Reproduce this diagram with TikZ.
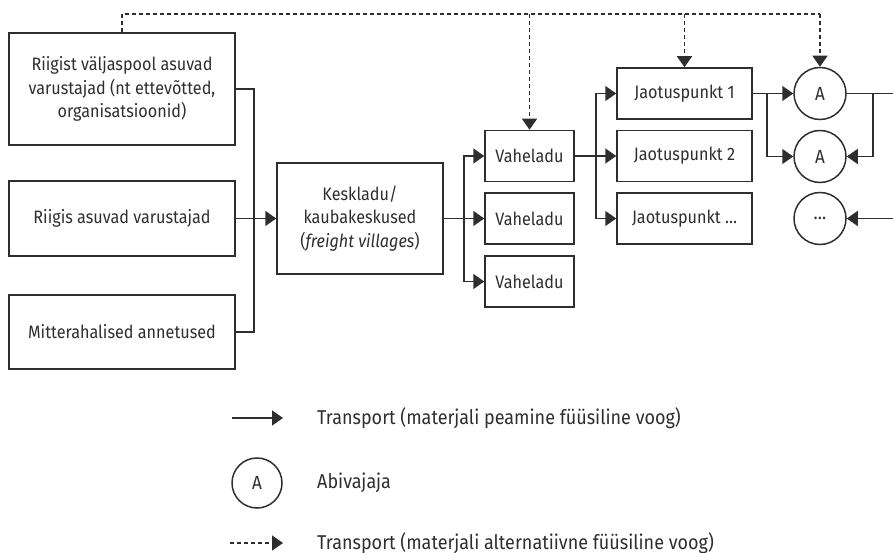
\documentclass[tikz,border=0pt]{standalone}
\usepackage{fontspec}
\setmainfont[FakeStretch=0.9]{Fira Sans}
\usetikzlibrary{arrows.meta,positioning}
\definecolor{ink}{HTML}{2E2E2E}

\begin{document}
\begin{tikzpicture}[x=1pt,y=-1pt]

\tikzset{box/.style = {shape=rectangle,draw=ink,line width=1.5pt,text=ink,align=center,inner sep=0pt,font=\fontsize{18}{23.5}\selectfont}}
\tikzset{helper/.style = {shape=circle,draw=ink,line width=1.5pt,text=ink,minimum size=52pt,inner sep=0pt,font=\fontsize{19}{21}\selectfont}}
\tikzset{plain/.style = {draw=ink,line width=1.5pt}}
\tikzset{flow/.style = {plain,-{Triangle[length=11pt,width=15pt]}}}
\tikzset{altline/.style = {plain,dash pattern=on 4pt off 3pt}}
\tikzset{altflow/.style = {flow,dash pattern=on 4pt off 3pt}}
\tikzset{keytext/.style = {anchor=west,text=ink,inner sep=0pt,font=\fontsize{20}{24}\selectfont}}

\useasboundingbox (0,0) rectangle (893,553);

% suppliers
\node[box,minimum width=226pt,minimum height=112pt] (abroad) at (122,89) {Riigist väljaspool asuvad\\varustajad (nt ettevõtted,\\organisatsioonid)};
\node[box,minimum width=226pt,minimum height=75pt] (domestic) at (122,218.5) {Riigis asuvad varustajad};
\node[box,minimum width=226pt,minimum height=74pt] (donations) at (122,332) {Mitterahalised annetused};

% warehouses
\node[box,minimum width=166pt,minimum height=111pt] (central) at (360,218.5) {Keskladu/\\kaubakeskused\\(\textit{freight villages})};
\node[box,minimum width=89pt,minimum height=51pt] (vl1) at (529.5,156) {Vaheladu};
\node[box,minimum width=89pt,minimum height=51pt] (vl2) at (529.5,218.5) {Vaheladu};
\node[box,minimum width=89pt,minimum height=51pt] (vl3) at (529.5,281.5) {Vaheladu};

% distribution points
\node[box,minimum width=135pt,minimum height=51pt] (jp1) at (684.5,93.5) {Jaotuspunkt 1};
\node[box,minimum width=135pt,minimum height=51pt] (jp2) at (684.5,156) {Jaotuspunkt 2};
\node[box,minimum width=135pt,minimum height=51pt] (jp3) at (684.5,218.5) {Jaotuspunkt \dots};

% people in need
\node[helper] (ab1) at (820,93.5) {A};
\node[helper] (ab2) at (820,156.5) {A};
\node[helper] (ab3) at (820,218.5) {\dots};

% junctions
\coordinate (bus) at (254,218.5);
\coordinate (split1) at (464,218.5);
\coordinate (split2) at (596,156);
\coordinate (split3) at (767,93.5);
\coordinate (split4) at (873,93.5);
\coordinate (exit1) at (893,93.5);
\coordinate (entry3) at (893,218.5);
\coordinate (altrow) at (0,14);

%edges
\draw[plain] (abroad.east) -| (bus) |- (donations.east);
\draw[flow] (domestic.east) -- (central.west);
\draw[flow] (central.east) -- (vl2.west);
\draw[flow] (split1) |- (vl1.west);
\draw[flow] (split1) |- (vl3.west);
\draw[flow] (vl1.east) -- (jp2.west);
\draw[flow] (split2) |- (jp1.west);
\draw[flow] (split2) |- (jp3.west);
\draw[flow] (jp1.east) -- (ab1.west);
\draw[flow] (split3) |- (ab2.west);
\draw[plain] (ab1.east) -- (exit1);
\draw[flow] (split4) |- (ab2.east);
\draw[flow] (entry3) -- (ab3.east);

% alternative flow
\draw[altline] (abroad.north) |- (ab1.north |- altrow);
\draw[altflow] (vl1.north |- altrow) -- (vl1.north);
\draw[altflow] (jp1.north |- altrow) -- (jp1.north);
\draw[altflow] (ab1.north |- altrow) -- (ab1.north);

% legend
\coordinate (key1a) at (232,418);
\coordinate (key1b) at (283,418);
\coordinate (key3a) at (230,543);
\coordinate (key3b) at (283,543);
\draw[flow] (key1a) -- (key1b);
\node[keytext] (key1) at (317,418) {Transport (materjali peamine füüsiline voog)};
\node[helper,minimum size=50pt] (keyA) at (257,483) {A};
\node[keytext] (key2) at (317,483) {Abivajaja};
\draw[altflow] (key3a) -- (key3b);
\node[keytext] (key3) at (317,543) {Transport (materjali alternatiivne füüsiline voog)};

\end{tikzpicture}
\end{document}
